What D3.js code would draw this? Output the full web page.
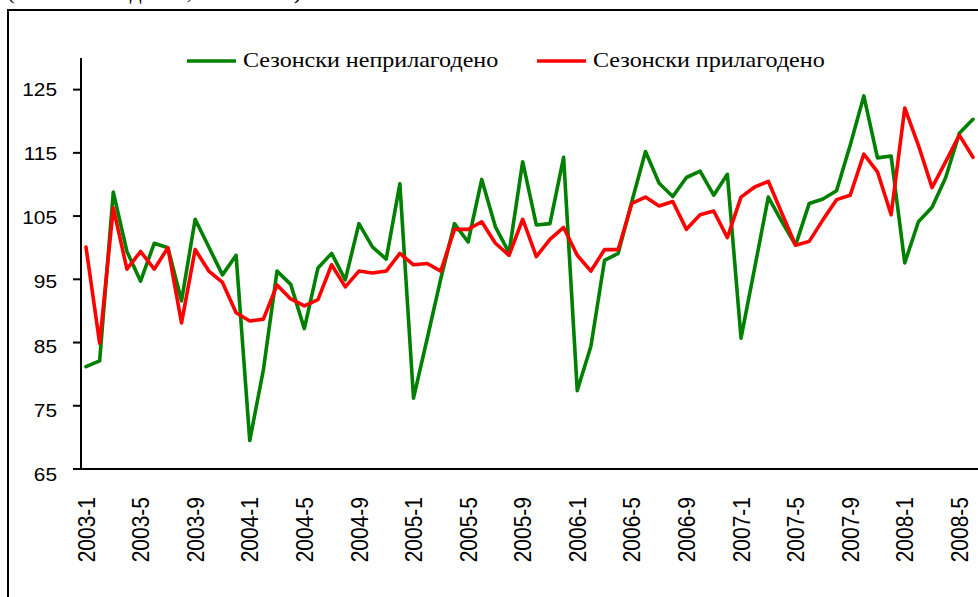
<!DOCTYPE html>
<html>
<head>
<meta charset="utf-8">
<script src="https://cdn.jsdelivr.net/npm/d3@7"></script>
<style>
  html, body { margin: 0; padding: 0; background: #fff; overflow: hidden; }
  svg { display: block; }
</style>
</head>
<body>
<svg id="chart" width="978" height="597"></svg>
<script>
const months = [
  "2003-1","2003-2","2003-3","2003-4","2003-5","2003-6","2003-7","2003-8","2003-9","2003-10","2003-11","2003-12",
  "2004-1","2004-2","2004-3","2004-4","2004-5","2004-6","2004-7","2004-8","2004-9","2004-10","2004-11","2004-12",
  "2005-1","2005-2","2005-3","2005-4","2005-5","2005-6","2005-7","2005-8","2005-9","2005-10","2005-11","2005-12",
  "2006-1","2006-2","2006-3","2006-4","2006-5","2006-6","2006-7","2006-8","2006-9","2006-10","2006-11","2006-12",
  "2007-1","2007-2","2007-3","2007-4","2007-5","2007-6","2007-7","2007-8","2007-9","2007-10","2007-11","2007-12",
  "2008-1","2008-2","2008-3","2008-4","2008-5","2008-6"
];
const unadjusted = [
  81.2, 82.1, 108.8, 99.4, 94.7, 100.7, 100.0, 91.6, 104.5, 100.1, 95.7, 98.8,
  69.5, 80.7, 96.3, 94.2, 87.2, 96.8, 99.1, 94.9, 103.8, 100.1, 98.2, 110.1,
  76.2, 85.6, 95.1, 103.8, 100.9, 110.8, 103.3, 99.2, 113.6, 103.6, 103.8, 114.3,
  77.4, 84.4, 98.0, 99.1, 107.3, 115.2, 110.2, 108.1, 111.1, 112.1, 108.3, 111.6,
  85.7, 96.8, 108.0, 104.1, 100.4, 107.0, 107.7, 109.0, 116.2, 124.0, 114.2, 114.5,
  97.6, 104.1, 106.4, 111.1, 118.1, 120.3
];
const adjusted = [
  100.1, 84.9, 106.3, 96.6, 99.4, 96.6, 100.0, 88.1, 99.7, 96.3, 94.5, 89.7,
  88.4, 88.7, 94.1, 91.9, 90.8, 91.8, 97.3, 93.8, 96.3, 96.0, 96.3, 99.1,
  97.3, 97.5, 96.3, 102.9, 102.9, 104.1, 100.7, 98.8, 104.5, 98.6, 101.3, 103.2,
  98.8, 96.3, 99.7, 99.7, 107.0, 108.0, 106.6, 107.3, 102.9, 105.2, 105.8, 101.6,
  108.0, 109.6, 110.5, 105.4, 100.4, 101.0, 104.4, 107.6, 108.3, 114.8, 112.0, 105.2,
  122.1, 116.2, 109.5, 113.6, 117.8, 114.3
];
const xTickLabels = ["2003-1","2003-5","2003-9","2004-1","2004-5","2004-9","2005-1","2005-5","2005-9",
  "2006-1","2006-5","2006-9","2007-1","2007-5","2007-9","2008-1","2008-5"];
const yTicks = [65, 75, 85, 95, 105, 115, 125];
const seriesNames = ["Сезонски неприлагодено", "Сезонски прилагодено"];
const seriesColors = ["#008000", "#ff0000"];
const topNote = "(месечни индекси, 2005=100)";

const svg = d3.select("#chart");
const SX = 1.18; // horizontal stretch of the original picture

// outer frame
svg.append("rect").attr("x", 8).attr("y", 10).attr("width", 1100).attr("height", 700)
  .attr("fill", "none").attr("stroke", "#000").attr("stroke-width", 2);

// top note, cut by the picture's upper edge as in the reference
svg.append("text").attr("transform", "translate(7,-1.5) scale(" + SX + ",1)")
  .attr("font-family", "Liberation Serif, Times New Roman, serif").attr("font-size", 20)
  .text(topNote);

const x = d3.scalePoint().domain(months).range([86, 973]);
const y = d3.scaleLinear().domain([65, 130]).range([469, 58]);
const yLab = d3.scaleLinear().domain([65, 125]).range([474.5, 89.5]);

// y axis
const yAxis = svg.append("g");
yAxis.append("line").attr("x1", 81).attr("x2", 81).attr("y1", y(130)).attr("y2", y(65))
  .attr("stroke", "#000").attr("stroke-width", 2);
yAxis.selectAll("line.tick").data(yTicks).join("line").attr("class", "tick")
  .attr("x1", 73).attr("x2", 81).attr("y1", d => y(d)).attr("y2", d => y(d))
  .attr("stroke", "#000").attr("stroke-width", 2);
yAxis.selectAll("text").data(yTicks).join("text")
  .attr("transform", d => "translate(57," + yLab(d) + ") scale(" + SX + ",1)")
  .attr("text-anchor", "end").attr("dominant-baseline", "central")
  .attr("font-family", "Liberation Sans, Arial, sans-serif").attr("font-size", 17.7)
  .text(d => d);

// x axis
const xAxis = svg.append("g");
xAxis.append("line").attr("x1", 73).attr("x2", 978).attr("y1", y(65)).attr("y2", y(65))
  .attr("stroke", "#000").attr("stroke-width", 2);
xAxis.selectAll("text").data(xTickLabels).join("text")
  .attr("transform", d => "translate(" + x(d) + ",497) scale(" + SX + ",1) rotate(-90)")
  .attr("text-anchor", "end").attr("dominant-baseline", "central")
  .attr("font-family", "Liberation Sans, Arial, sans-serif").attr("font-size", 21)
  .text(d => d);

// lines
const line = d3.line().x((d, i) => x(months[i])).y(d => y(d));
[unadjusted, adjusted].forEach((vals, k) => {
  svg.append("path").datum(vals).attr("d", line)
    .attr("fill", "none").attr("stroke", seriesColors[k]).attr("stroke-width", 3.6)
    .attr("stroke-linejoin", "round").attr("stroke-linecap", "round");
});

// legend
const legendPos = [187, 537];
seriesNames.forEach((name, k) => {
  const g = svg.append("g");
  g.append("line").attr("x1", legendPos[k]).attr("x2", legendPos[k] + 49).attr("y1", 61).attr("y2", 61)
    .attr("stroke", seriesColors[k]).attr("stroke-width", 3.6);
  g.append("text").attr("transform", "translate(" + (legendPos[k] + 56) + ",67) scale(" + SX + ",1)")
    .attr("font-family", "Liberation Serif, Times New Roman, serif").attr("font-size", 20.4)
    .text(name);
});
</script>
</body>
</html>
